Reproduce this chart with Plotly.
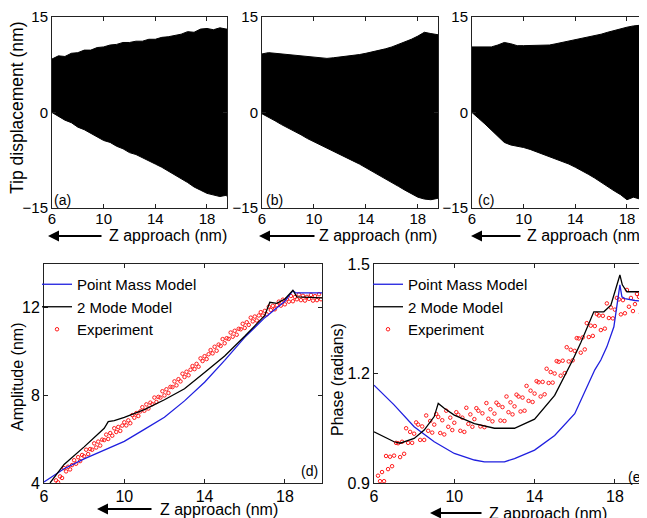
import plotly.graph_objects as go

# ---- top row: tip displacement envelopes (a), (b), (c)
z_top = [6.0, 6.5, 7.0, 7.5, 8.0, 8.5, 9.0, 9.5, 10.0, 10.5, 11.0, 11.5, 12.0, 12.5,
         13.0, 13.5, 14.0, 14.5, 15.0, 15.5, 16.0, 16.5, 17.0, 17.5, 18.0, 18.5,
         19.0, 19.5, 19.6]

a_upper = [8.4, 8.9, 8.8, 9.3, 9.4, 9.8, 9.8, 10.2, 10.3, 10.6, 10.7, 11.0, 11.0, 11.2,
           11.2, 11.5, 11.5, 11.8, 11.9, 12.1, 12.3, 12.7, 12.6, 13.1, 13.2, 13.0,
           13.3, 13.1, 13.2]
a_lower = [0.0, -0.6, -1.2, -1.6, -2.3, -2.7, -3.3, -3.8, -4.4, -4.7, -5.3, -5.7, -6.3, -6.6,
           -7.2, -7.6, -8.1, -8.6, -9.2, -9.7, -10.4, -11.0, -11.7, -12.2, -12.7, -12.9,
           -13.2, -13.0, -13.3]

b_upper = [9.2, 9.4, 9.3, 9.2, 9.1, 9.0, 8.9, 8.8, 8.7, 8.6, 8.5, 8.6, 8.7, 8.8,
           8.9, 9.1, 9.3, 9.5, 9.8, 10.0, 10.3, 10.7, 11.0, 11.5, 12.0, 12.6,
           12.4, 12.3, 12.2]
b_lower = [-0.2, -0.7, -1.3, -1.9, -2.4, -3.0, -3.5, -4.1, -4.7, -5.2, -5.6, -6.1, -6.6, -7.1,
           -7.6, -8.1, -8.6, -9.2, -9.8, -10.4, -11.0, -11.6, -12.2, -12.8, -13.3, -13.6,
           -13.7, -13.5, -13.6]

c_upper = [10.3, 10.3, 10.3, 10.3, 10.6, 11.0, 10.8, 10.5, 10.5, 10.5, 10.5, 10.5, 10.6, 10.8,
           11.0, 11.2, 11.4, 11.6, 11.8, 12.0, 12.3, 12.6, 12.9, 13.2, 13.4, 13.6,
           13.7, 13.2, 13.1]
c_lower = [0.0, -0.9, -1.8, -2.7, -3.7, -4.7, -5.1, -5.3, -5.5, -5.8, -6.1, -6.5, -6.9, -7.3,
           -7.7, -8.1, -8.6, -9.1, -9.7, -10.3, -10.9, -11.6, -12.3, -12.9, -13.7, -13.3,
           -13.6, -13.2, -13.0]

# ---- (d) amplitude
pm_d_x = [6.0, 7.0, 8.0, 9.0, 10.0, 11.0, 12.0, 13.0, 14.0, 15.0, 16.0, 17.0, 18.0, 18.4, 18.55, 19.9]
pm_d_y = [4.05, 4.65, 5.1, 5.5, 5.9, 6.45, 7.0, 7.75, 8.6, 9.6, 10.65, 11.55, 12.3, 12.78, 12.68, 12.68]

tm_d_x = [6.3, 7.0, 8.0, 9.0, 9.2, 9.5, 10.0, 11.0, 12.0, 13.0, 14.0, 15.0, 16.0, 17.0,
          17.25, 17.6, 18.0, 18.4, 18.6, 19.9]
tm_d_y = [4.0, 4.85, 5.65, 6.5, 6.8, 6.85, 7.0, 7.35, 7.8, 8.3, 9.05, 9.8, 10.7, 11.65,
          12.25, 12.2, 12.4, 12.8, 12.5, 12.45]

exp_d_x = [6.6, 6.7, 6.8, 6.9, 7.0, 7.1, 7.2, 7.3, 7.4, 7.5, 7.6, 7.7, 7.8, 7.9,
           8.0, 8.1, 8.2, 8.3, 8.4, 8.5, 8.6, 8.7, 8.8, 8.9, 9.0, 9.1, 9.2, 9.3, 9.4,
           9.5, 9.6, 9.7, 9.8, 9.9, 10.0, 10.1, 10.2, 10.3, 10.4, 10.5, 10.6, 10.7,
           10.8, 10.9, 11.0, 11.1, 11.2, 11.3, 11.4, 11.5, 11.6, 11.7, 11.8, 11.9,
           12.0, 12.1, 12.2, 12.3, 12.4, 12.5, 12.6, 12.7, 12.8, 12.9, 13.0, 13.1,
           13.2, 13.3, 13.4, 13.5, 13.6, 13.7, 13.8, 13.9, 14.0, 14.1, 14.2, 14.3,
           14.4, 14.5, 14.6, 14.7, 14.8, 14.9, 15.0, 15.1, 15.2, 15.3, 15.4, 15.5,
           15.6, 15.7, 15.8, 15.9, 16.0, 16.1, 16.2, 16.3, 16.4, 16.5, 16.6, 16.7,
           16.8, 16.9, 17.0, 17.1, 17.2, 17.3, 17.4, 17.5, 17.6, 17.7, 17.8, 17.9,
           18.0, 18.1, 18.2, 18.3, 18.4, 18.5, 18.6, 18.7, 18.8, 18.9, 19.0, 19.1,
           19.2, 19.3, 19.4, 19.5, 19.6, 19.7, 19.8]
exp_d_y = [4.12, 4.03, 4.30, 4.23, 4.68, 4.53, 4.74, 4.62, 4.82, 5.04, 4.88, 5.18, 5.00, 5.28,
           5.22, 5.52, 5.32, 5.55, 5.52, 5.81, 5.62, 5.89, 5.71, 5.98, 5.96, 6.21, 6.01, 6.28, 6.16,
           6.50, 6.33, 6.56, 6.38, 6.62, 6.77, 6.63, 6.86, 6.73, 7.10, 6.98, 7.19, 7.06,
           7.27, 7.46, 7.30, 7.59, 7.40, 7.67, 7.60, 7.90, 7.70, 7.93, 7.90, 8.19,
           8.00, 8.28, 8.11, 8.39, 8.38, 8.64, 8.46, 8.74, 8.64, 8.99, 8.84, 9.08,
           8.92, 9.17, 9.34, 9.20, 9.44, 9.31, 9.69, 9.57, 9.79, 9.66, 9.88, 10.07,
           9.92, 10.22, 10.04, 10.32, 10.26, 10.57, 10.38, 10.61, 10.58, 10.87, 10.68, 10.95,
           10.77, 11.04, 11.02, 11.27, 11.08, 11.34, 11.22, 11.55, 11.38, 11.60, 11.42, 11.65,
           11.80, 11.64, 11.86, 11.70, 12.05, 11.90, 12.09, 11.93, 12.12, 12.28, 12.10, 12.37,
           12.16, 12.39, 12.28, 12.54, 12.30, 12.49, 12.39, 12.61, 12.35, 12.55, 12.33, 12.50,
           12.41, 12.59, 12.33, 12.53, 12.35, 12.62, 12.39]

# ---- (e) phase
pm_e_x = [6.0, 7.0, 8.0, 9.0, 10.0, 11.0, 11.5, 12.5, 13.0, 14.0, 15.0, 16.0, 17.0, 17.3,
          17.6, 17.95, 18.25, 18.35, 18.5, 19.0, 19.6]
pm_e_y = [1.168, 1.114, 1.054, 1.013, 0.981, 0.963, 0.958, 0.958, 0.967, 0.99, 1.03, 1.09,
          1.21, 1.237, 1.273, 1.328, 1.443, 1.41, 1.405, 1.40, 1.397]

tm_e_x = [6.0, 7.0, 7.3, 8.0, 8.5, 9.0, 9.2, 9.5, 10.0, 11.0, 12.0, 13.0, 14.0, 15.0,
          15.9, 16.3, 16.95, 17.45, 17.8, 18.25, 18.37, 18.6, 19.6]
tm_e_y = [1.04, 1.013, 1.009, 1.022, 1.045, 1.082, 1.118, 1.105, 1.086, 1.063, 1.05, 1.05,
          1.075, 1.14, 1.237, 1.284, 1.369, 1.369, 1.387, 1.47, 1.443, 1.424, 1.424]

exp_e_x = [6.2, 6.3, 6.4, 6.5, 6.6, 6.7, 6.8, 6.9, 7.0, 7.1, 7.2, 7.3, 7.4, 7.5, 7.6, 7.7,
           7.8, 7.9, 8.0, 8.1, 8.2, 8.3, 8.4, 8.5, 8.6, 8.7, 8.8, 8.9, 9.0, 9.1, 9.2,
           9.3, 9.4, 9.5, 9.6, 9.7, 9.8, 9.9, 10.0, 10.1, 10.2, 10.3, 10.4, 10.5, 10.6,
           10.7, 10.8, 10.9, 11.0, 11.1, 11.2, 11.3, 11.4, 11.5, 11.6, 11.7, 11.8, 11.9,
           12.0, 12.1, 12.2, 12.3, 12.4, 12.5, 12.6, 12.7, 12.8, 12.9, 13.0, 13.1, 13.2,
           13.3, 13.4, 13.5, 13.6, 13.7, 13.8, 13.9, 14.0, 14.1, 14.2, 14.3, 14.4, 14.5,
           14.6, 14.7, 14.8, 14.9, 15.0, 15.1, 15.2, 15.3, 15.4, 15.5, 15.6, 15.7, 15.8,
           15.9, 16.0, 16.1, 16.2, 16.3, 16.4, 16.5, 16.6, 16.7, 16.8, 16.9, 17.0, 17.1,
           17.2, 17.3, 17.4, 17.5, 17.6, 17.7, 17.8, 17.9, 18.0, 18.1, 18.2, 18.3, 18.4,
           18.5, 18.6, 18.7, 18.8, 18.9, 19.0, 19.1, 19.2, 19.3, 19.4, 19.5, 19.6]
exp_e_y = [0.920, 0.905, 0.930, 0.905, 0.974, 0.938, 0.972, 0.946, 0.975, 1.010, 1.009, 0.971,
           1.013, 0.980, 1.050, 1.010, 1.040, 1.010, 1.035, 1.066, 1.060, 1.018, 1.055, 1.018,
           1.085, 1.043, 1.070, 1.038, 1.060, 1.089, 1.081, 1.037, 1.072, 1.033, 1.098, 1.054,
           1.079, 1.045, 1.065, 1.094, 1.087, 1.043, 1.079, 1.040, 1.106, 1.062, 1.088, 1.054,
           1.075, 1.105, 1.098, 1.055, 1.091, 1.053, 1.119, 1.076, 1.102, 1.069, 1.090, 1.120,
           1.114, 1.071, 1.108, 1.070, 1.137, 1.094, 1.121, 1.088, 1.110, 1.142, 1.137, 1.096,
           1.134, 1.098, 1.166, 1.125, 1.153, 1.122, 1.145, 1.179, 1.176, 1.137, 1.177, 1.143,
           1.213, 1.174, 1.204, 1.175, 1.200, 1.234, 1.232, 1.194, 1.235, 1.201, 1.272, 1.233,
           1.265, 1.236, 1.262, 1.297, 1.296, 1.257, 1.299, 1.266, 1.338, 1.300, 1.331, 1.303,
           1.330, 1.363, 1.359, 1.319, 1.358, 1.323, 1.392, 1.352, 1.381, 1.351, 1.375, 1.407,
           1.403, 1.362, 1.401, 1.365, 1.429, 1.383, 1.407, 1.371, 1.390, 1.418, 1.410, 1.365,
           1.400, 1.360, 1.425]

# the page body has an 8px margin, so the figure is 8px smaller and everything shifts by 8
OFF = 8
W, H = 647 - OFF, 518 - OFF
FONT = "Arial, Liberation Sans, sans-serif"
BLUE = "#1f1fdf"
RED = "#ff1a1a"

fig = go.Figure()


def envelope(x, upper, lower, xa, ya):
    fig.add_trace(go.Scatter(
        x=x + x[::-1], y=upper + lower[::-1],
        mode="lines", fill="toself", fillcolor="black",
        line=dict(color="black", width=1),
        showlegend=False, hoverinfo="skip", xaxis=xa, yaxis=ya))


envelope(z_top, a_upper, a_lower, "x", "y")
envelope(z_top, b_upper, b_lower, "x2", "y2")
envelope(z_top, c_upper, c_lower, "x3", "y3")

for lg, xa, ya, pmx, pmy, tmx, tmy, ex, ey in [
        ("legend", "x4", "y4", pm_d_x, pm_d_y, tm_d_x, tm_d_y, exp_d_x, exp_d_y),
        ("legend2", "x5", "y5", pm_e_x, pm_e_y, tm_e_x, tm_e_y, exp_e_x, exp_e_y)]:
    fig.add_trace(go.Scatter(x=ex, y=ey, mode="markers", name="Experiment",
                             marker=dict(symbol="circle-open", size=3.5, color=RED,
                                         line=dict(width=1, color=RED)),
                             legend=lg, legendrank=3, xaxis=xa, yaxis=ya))
    fig.add_trace(go.Scatter(x=pmx, y=pmy, mode="lines", name="Point Mass Model",
                             line=dict(color=BLUE, width=1.3),
                             legend=lg, legendrank=1, xaxis=xa, yaxis=ya))
    fig.add_trace(go.Scatter(x=tmx, y=tmy, mode="lines", name="2 Mode Model",
                             line=dict(color="black", width=1.3),
                             legend=lg, legendrank=2, xaxis=xa, yaxis=ya))


def px(v):
    return (v - OFF) / W


def py(v):
    return (H - (v - OFF)) / H


axis_common = dict(showline=True, linecolor="#222", linewidth=1, ticks="inside",
                   ticklen=4, tickcolor="#222", showgrid=False, zeroline=False,
                   automargin=False)

top_y = [py(208), py(17)]
bot_y = [py(483), py(264)]
panels = [
    ("", [px(52), px(227)], top_y, [6, 19.55], [-15, 15], [-15, 0, 15], True, 15, -3),
    ("2", [px(262), px(438)], top_y, [6, 19.55], [-15, 15], [-15, 0, 15], True, 15, -3),
    ("3", [px(472), 1.0], top_y, [6, 19.55], [-15, 15], [-15, 0, 15], False, 15, -3),
    ("4", [px(44), px(322)], bot_y, [6, 19.85], [4, 14], [4, 8, 12], True, 16, -1),
    ("5", [px(374), 1.0], bot_y, [6, 19.6], [0.9, 1.5], [0.9, 1.2, 1.5], False, 16, -1),
]
layout_axes = {}
for s, xd, yd, xr, yr, yt, mir, fs, so in panels:
    tf = dict(size=fs, color="black", family=FONT)
    layout_axes["xaxis" + s] = dict(axis_common, domain=xd, range=xr, anchor="y" + s,
                                    tickvals=[6, 10, 14, 18], mirror="ticks", tickfont=tf,
                                    ticklabelstandoff=so)
    layout_axes["yaxis" + s] = dict(axis_common, domain=yd, range=yr, anchor="x" + s,
                                    tickvals=yt, mirror="ticks" if mir else False, tickfont=tf)
layout_axes["yaxis5"]["ticktext"] = ["0.9", "1.2", "1.5"]

fig.update_layout(**layout_axes)

ann = []
# axis titles
ann.append(dict(text="Tip displacement (nm)", x=px(17), y=py(108), textangle=-90,
                font=dict(size=17.5, family=FONT, color="black")))
ann.append(dict(text="Amplitude (nm)", x=px(17), y=py(377), textangle=-90))
ann.append(dict(text="Phase (radians)", x=px(337), y=py(380), textangle=-90))
for cx, cy in [(168, 236), (378, 236), (586, 236), (219, 509), (548, 513)]:
    ann.append(dict(text="Z approach (nm)", x=px(cx), y=py(cy)))
# arrows pointing to the left
arrows = [(48, 103, 236), (259, 316, 236), (471, 522, 236), (97, 153, 509), (430, 483, 513)]
for x0, x1, ay in arrows:
    ann.append(dict(text="", x=px(x0), y=py(ay), ax=x1 - x0, ay=0, showarrow=True,
                    arrowhead=2, arrowsize=1.1, arrowwidth=2, arrowcolor="black"))
# panel labels
for lab, cx, cy in [("(a)", 63, 200), ("(b)", 274, 200), ("(c)", 486, 200),
                    ("(d)", 309, 471), ("(e)", 636, 477)]:
    ann.append(dict(text=lab, x=px(cx), y=py(cy), font=dict(size=14, family=FONT, color="black")))

for a in ann:
    a.setdefault("showarrow", False)
    a.setdefault("font", dict(size=16, family=FONT, color="black"))
    a.update(xref="paper", yref="paper", xanchor="center", yanchor="middle")

legend_style = dict(xanchor="left", yanchor="top", bgcolor="rgba(0,0,0,0)",
                    font=dict(size=15, family=FONT, color="black"),
                    tracegroupgap=0, itemwidth=30)
fig.update_layout(
    template="none",
    width=W, height=H, autosize=False,
    margin=dict(l=0, r=0, t=0, b=0, autoexpand=False),
    paper_bgcolor="white", plot_bgcolor="white",
    font=dict(family=FONT, color="black"),
    annotations=ann,
    legend=dict(legend_style, x=px(37), y=py(268)),
    legend2=dict(legend_style, x=px(368), y=py(268)),
)

fig.write_html("out.html")
